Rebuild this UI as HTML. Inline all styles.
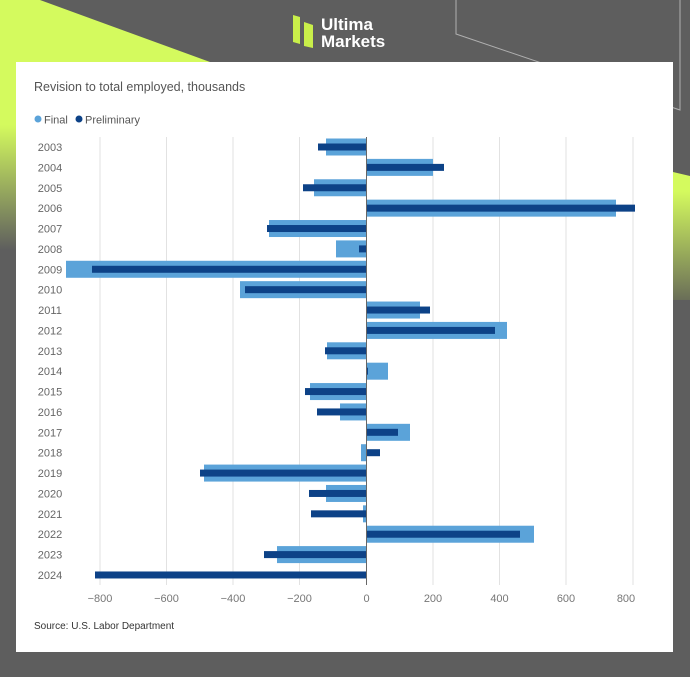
<!DOCTYPE html>
<html><head><meta charset="utf-8"><style>
html,body{margin:0;padding:0;background:#5e5e5e;}
svg{display:block;font-family:"Liberation Sans",sans-serif;}
</style></head><body>
<svg width="690" height="677" viewBox="0 0 690 677" xmlns="http://www.w3.org/2000/svg">
<defs>
<linearGradient id="gl" x1="0" y1="0" x2="0" y2="1">
<stop offset="0" stop-color="#d4fa5e"/><stop offset="0.5" stop-color="#d4fa5e"/><stop offset="1" stop-color="#5e5e5e"/>
</linearGradient>
<linearGradient id="gr" x1="0" y1="0" x2="0" y2="1">
<stop offset="0" stop-color="#d4fa5e"/><stop offset="0.15" stop-color="#d4fa5e"/><stop offset="1" stop-color="#6a6e58"/>
</linearGradient>
</defs>
<rect width="690" height="677" fill="#5e5e5e"/>
<polygon points="0,0 40,0 210,62 16,62 16,250 0,250" fill="url(#gl)"/>
<polygon points="673,172 690,176 690,300 673,300" fill="url(#gr)"/>
<polyline points="456,0 456,34 680,110 680,0" fill="none" stroke="#b0b0b0" stroke-width="1"/>
<!-- logo -->
<polygon points="293,15 300,17 300,44 293,42" fill="#c9ef4a"/>
<polygon points="304,22 313,25 313,48 304,46" fill="#c9ef4a"/>
<text x="321" y="30" font-size="17" fill="#fff" font-weight="bold">Ultima</text>
<text x="321" y="47" font-size="17" fill="#fff" font-weight="bold">Markets</text>
<!-- card -->
<rect x="16" y="62" width="657" height="590" fill="#fff"/>
<text x="34" y="91" font-size="12.5" fill="#555">Revision to total employed, thousands</text>
<circle cx="38" cy="119" r="3.5" fill="#5ba3d9"/>
<text x="44" y="123.5" font-size="11" fill="#555">Final</text>
<circle cx="79" cy="119" r="3.5" fill="#0d4287"/>
<text x="85" y="123.5" font-size="11" fill="#555">Preliminary</text>
<g stroke="#e2e2e2" stroke-width="1">
<line x1="100" y1="137" x2="100" y2="585"/><line x1="166.5" y1="137" x2="166.5" y2="585"/>
<line x1="233" y1="137" x2="233" y2="585"/><line x1="299.5" y1="137" x2="299.5" y2="585"/>
<line x1="433" y1="137" x2="433" y2="585"/><line x1="499.5" y1="137" x2="499.5" y2="585"/>
<line x1="566" y1="137" x2="566" y2="585"/><line x1="633" y1="137" x2="633" y2="585"/>
</g>
<g id="bars"></g>
<line x1="366.5" y1="137" x2="366.5" y2="585" stroke="#666" stroke-width="1"/>
<g font-size="11" fill="#777" text-anchor="middle">
<text x="100" y="602">−800</text><text x="166.5" y="602">−600</text><text x="233" y="602">−400</text>
<text x="299.5" y="602">−200</text><text x="366.5" y="602">0</text><text x="433" y="602">200</text>
<text x="499.5" y="602">400</text><text x="566" y="602">600</text><text x="626" y="602">800</text>
</g>
<g id="labels" font-size="11" fill="#666" text-anchor="middle"></g>
<text x="34" y="629" font-size="10" fill="#333">Source: U.S. Labor Department</text>
</svg>
<script>
var F=[326,433,314,616,269,336,66,240,420,507,327,388,310,340,410,361,204,326,363,534,277,null];
var P=[318,444,303,635,267,359,92,245,430,495,325,368,305,317,398,380,200,309,311,520,264,95];
var z=366.5,ns="http://www.w3.org/2000/svg",b=document.getElementById("bars"),l=document.getElementById("labels");
function r(x1,x2,y,h,c){var e=document.createElementNS(ns,"rect");e.setAttribute("x",Math.min(x1,x2));e.setAttribute("width",Math.abs(x2-x1));e.setAttribute("y",y-h/2);e.setAttribute("height",h);e.setAttribute("fill",c);b.appendChild(e);}
for(var i=0;i<22;i++){var y=147+i*20.38;
if(F[i]!==null)r(z,F[i],y,17,"#5ba3d9");
r(z,P[i],y,7,"#0d4287");
var t=document.createElementNS(ns,"text");t.setAttribute("x",50);t.setAttribute("y",y+4);t.textContent=2003+i;l.appendChild(t);}
</script>
</body></html>
